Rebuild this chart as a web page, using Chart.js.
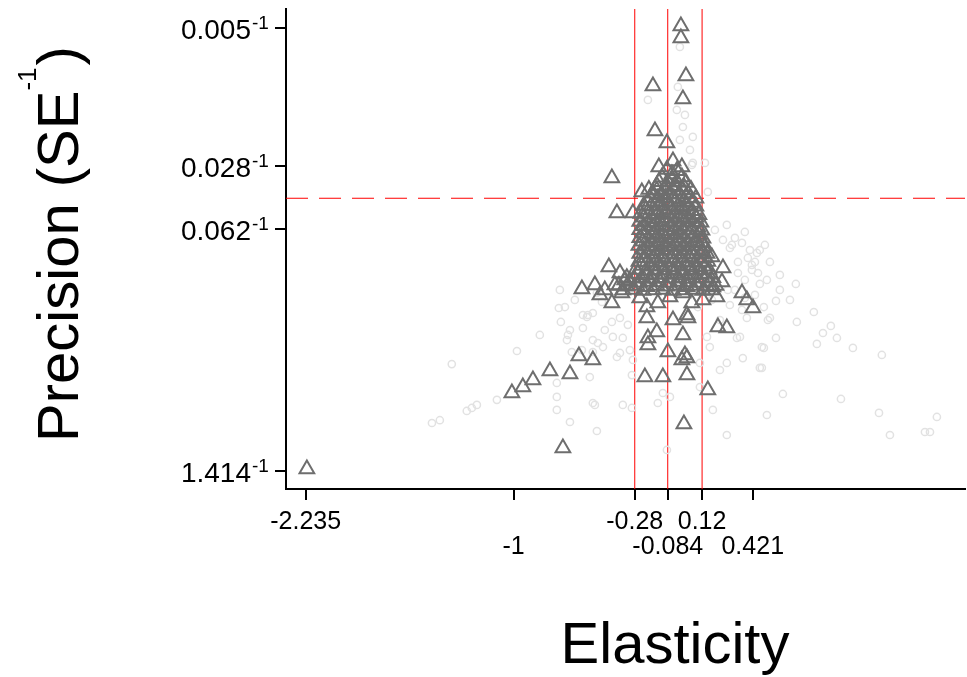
<!DOCTYPE html>
<html>
<head>
<meta charset="utf-8">
<script src="https://cdn.jsdelivr.net/npm/chart.js@4.4.1/dist/chart.umd.min.js"></script>
<style>
  html, body { margin: 0; padding: 0; background: #fff; }
</style>
</head>
<body>
<canvas id="funnel" width="967" height="677"></canvas>
<script>
// axis ticks
const xTicks = [-2.235, -1, -0.28, -0.084, 0.12, 0.421];
const xTickLabels = ['-2.235', '-1', '-0.28', '-0.084', '0.12', '0.421'];
const xTickRow = [0, 1, 0, 1, 0, 1];
const yTicks = [200, 34.46, 15.44, 0.7072];
const yTickLabels = ['0.005', '0.028', '0.062', '1.414'];

// reference lines
const refLinesX = [-0.28, -0.084, 0.12];
const refLineY = 22.83;

// triangles (dark grey)
const triElasticity = [
  -2.228, -0.707, 0.012, -1.010, -0.945, -0.885, -0.784, -0.665, -0.612, -0.529,
  -0.594, -0.434, -0.368, -0.416, -0.416, -0.386, -0.291, -0.238, -0.006, -0.006,
  0.024, -0.172, 0.006, -0.160, -0.089, -0.053, -0.137, 0.000, 0.178, 0.244,
  0.238, 0.357, 0.386, 0.422, 0.214, 0.267, 0.030, 0.006, 0.018, -0.208,
  -0.149, -0.202, -0.202, -0.083, -0.053, 0.036, 0.000, 0.030, -0.220, -0.113,
  0.030, 0.154, -0.357, -0.250, -0.208, -0.143, -0.071, 0.006, 0.059, 0.125,
  0.184, 0.208, -0.517, -0.458, -0.398, -0.339, -0.487,
  -0.089, -0.030,
  -0.119, -0.059, 0.000,
  -0.149, -0.095, -0.042, 0.012,
  -0.172, -0.125, -0.071, -0.018, 0.036,
  -0.202, -0.149, -0.095, -0.042, 0.012, 0.059,
  -0.214, -0.160, -0.107, -0.053, 0.000, 0.059,
  -0.226, -0.172, -0.119, -0.065, -0.012, 0.042, 0.083,
  -0.226, -0.172, -0.119, -0.065, -0.012, 0.042, 0.095,
  -0.226, -0.172, -0.119, -0.065, -0.012, 0.042, 0.101,
  -0.232, -0.178, -0.125, -0.071, -0.018, 0.036, 0.089, 0.119,
  -0.226, -0.172, -0.119, -0.065, -0.012, 0.042, 0.095, 0.125,
  -0.226, -0.172, -0.119, -0.065, -0.012, 0.042, 0.095, 0.137,
  -0.238, -0.184, -0.131, -0.077, -0.024, 0.030, 0.083, 0.137,
  -0.261, -0.208, -0.154, -0.101, -0.048, 0.006, 0.059, 0.113, 0.154,
  -0.309, -0.250, -0.190, -0.131, -0.071, -0.012, 0.048, 0.107, 0.166,
  -0.351, -0.291, -0.232, -0.172, -0.113, -0.053, 0.006, 0.065, 0.125, 0.178,
  -0.059,
  -0.137, -0.083, -0.030, 0.024,
  -0.196, -0.149, -0.101, -0.048, 0.006, 0.054,
  -0.190, -0.143, -0.095, -0.048, 0.000, 0.048, 0.083,
  -0.226, -0.184, -0.131, -0.077, -0.024, 0.030, 0.083,
  -0.244, -0.196, -0.143, -0.089, -0.036, 0.018, 0.071, 0.101,
  -0.250, -0.202, -0.149, -0.095, -0.042, 0.012, 0.065, 0.113,
  -0.250, -0.202, -0.149, -0.095, -0.042, 0.012, 0.065, 0.119,
  -0.250, -0.202, -0.149, -0.095, -0.042, 0.012, 0.065, 0.125,
  -0.255, -0.202, -0.149, -0.095, -0.042, 0.012, 0.065, 0.137,
  -0.250, -0.202, -0.149, -0.095, -0.042, 0.012, 0.065, 0.113, 0.149,
  -0.255, -0.208, -0.154, -0.101, -0.048, 0.006, 0.059, 0.113, 0.154,
  -0.273, -0.214, -0.160, -0.107, -0.053, 0.000, 0.054, 0.107, 0.160,
  -0.327, -0.285, -0.232, -0.178, -0.125, -0.071, -0.018, 0.036, 0.089, 0.143, 0.184,
  -0.374, -0.327, -0.267, -0.208, -0.149, -0.089, -0.030, 0.030, 0.089, 0.149, 0.202
];
const triPrecision = [
  0.725, 0.948, 1.287, 1.910, 2.062, 2.254, 2.528, 2.433, 3.06, 2.909,
  7.19, 9.51, 8.81, 6.01, 29.58, 18.93, 18.93, 24.74, 205.2, 176.1,
  108.5, 95.5, 80.9, 53.8, 46.2, 36.7, 34.0, 34.0, 10.81, 9.39,
  7.86, 6.83, 6.25, 5.64, 4.43, 4.37, 5.16, 4.00, 3.10, 4.97,
  4.16, 3.85, 3.52, 3.22, 4.84, 4.97, 2.909, 2.98, 2.34, 2.34,
  2.40, 1.985, 6.83, 6.41, 5.71, 6.01, 6.49, 6.83, 6.01, 6.25,
  7.37, 6.49, 7.56, 7.10, 7.56, 8.06, 6.66,
  32.9, 32.4,
  29.8, 29.3, 29.9,
  26.9, 26.5, 26.8, 26.4,
  24.3, 23.9, 24.2, 24.0, 24.4,
  21.9, 21.6, 21.9, 21.7, 22.0, 21.6,
  19.8, 19.5, 19.8, 19.6, 19.9, 19.5,
  17.9, 17.6, 17.8, 17.7, 18.0, 17.6, 17.9,
  16.1, 15.9, 16.2, 15.9, 16.1, 16.0, 15.8,
  14.6, 14.4, 14.6, 14.3, 14.5, 14.6, 14.4,
  13.2, 13.0, 13.1, 12.9, 13.2, 13.0, 13.1, 12.9,
  11.9, 11.7, 11.9, 11.8, 11.7, 11.9, 11.8, 11.6,
  10.7, 10.6, 10.8, 10.6, 10.7, 10.8, 10.6, 10.7,
  9.7, 9.6, 9.7, 9.5, 9.6, 9.7, 9.5, 9.6,
  8.75, 8.6, 8.7, 8.65, 8.75, 8.6, 8.7, 8.65, 8.75,
  7.9, 7.8, 7.9, 7.85, 7.8, 7.9, 7.85, 7.8, 7.9,
  7.1, 7.15, 7.05, 7.1, 7.15, 7.05, 7.1, 7.15, 7.05, 7.1,
  31.1,
  28.2, 28.0, 28.3, 27.9,
  25.5, 25.3, 25.6, 25.2, 25.4, 25.5,
  23.0, 22.8, 23.1, 22.9, 22.7, 23.0, 22.8,
  20.8, 20.6, 20.9, 20.7, 20.5, 20.8, 20.6,
  18.8, 18.6, 18.7, 18.9, 18.6, 18.8, 18.7, 18.5,
  17.0, 16.8, 16.9, 17.1, 16.8, 16.9, 17.0, 16.8,
  15.3, 15.2, 15.3, 15.1, 15.3, 15.2, 15.3, 15.2,
  13.8, 13.7, 13.9, 13.7, 13.8, 13.7, 13.8, 13.7,
  12.5, 12.4, 12.5, 12.3, 12.5, 12.4, 12.5, 12.4,
  11.3, 11.2, 11.3, 11.2, 11.3, 11.2, 11.3, 11.2, 11.3,
  10.2, 10.1, 10.2, 10.1, 10.2, 10.1, 10.2, 10.1, 10.2,
  9.2, 9.1, 9.2, 9.15, 9.2, 9.1, 9.2, 9.15, 9.2,
  8.3, 8.25, 8.3, 8.2, 8.3, 8.25, 8.3, 8.2, 8.3, 8.25, 8.3,
  7.5, 7.45, 7.5, 7.4, 7.5, 7.45, 7.5, 7.4, 7.5, 7.45, 7.5
];

// circles (light grey)
const circElasticity = [
  0.677, 0.559, 0.487, 0.511, 0.683, 0.784, 0.885, 0.838, 0.921, 0.802,
  1.016, 1.188, 0.559, 0.487, 0.475, 0.600, 0.945, 1.171, 1.515, 0.505,
  1.236, 1.444, 1.474, 0.267, 0.315, 0.357, 0.297, 0.463, 0.434, 0.416,
  0.452, 0.505, 0.333, 0.374, 0.345, 0.523, -0.731, -0.719, -0.588, -0.559,
  -0.505, -0.475, -0.588, -0.665, -0.677, -0.683, -0.844, -0.980, -1.367, -0.458,
  -0.410, -0.529, -0.499, -0.469, -0.594, -0.654, -0.386, -0.743, -0.743, -0.743,
  -0.547, -0.529, -0.665, -0.505, -1.099, -1.218, -1.248, -1.278, -1.438, -1.485,
  -0.564, -0.351, -0.529, -0.368, -0.309, -0.291, -0.297, -0.113, -0.071, -0.517,
  -0.351, -0.297, -0.143, -0.089, 0.184, 0.267, 0.463, 0.267, 0.226, 0.107,
  0.095, 0.226, 0.327, 0.386, 0.475, 0.362, 0.107, 0.149, 0.166, -0.012,
  -0.202, -0.024, -0.030, 0.018, 0.006, 0.065, -0.012, 0.048, 0.065, 0.244,
  0.285, 0.404, 0.416, 0.446, 0.154, 0.137, 0.059, -0.695, -0.529, 0.178,
  0.285, 0.357, 0.434, 0.315, 0.582, 0.642, -0.368, -0.321, -0.416,
  0.196, 0.374, 0.493, 0.392, 0.333, 0.523, 0.463, 0.273, 0.374, 0.582,
  -0.725, -0.636
];
const circPrecision = [
  7.66, 6.17, 5.71, 4.84, 4.72, 5.36, 4.49, 4.10, 3.85, 3.57,
  3.39, 3.10, 3.85, 3.39, 2.63, 1.886, 1.770, 1.481, 1.407, 1.443,
  1.118, 1.162, 1.162, 16.25, 13.77, 12.92, 12.59, 11.81, 10.14, 9.76,
  8.81, 8.06, 8.81, 8.06, 3.90, 4.97, 5.64, 4.72, 5.16, 5.16,
  6.83, 6.09, 4.37, 4.26, 4.00, 3.75, 4.00, 3.26, 2.76, 4.26,
  3.90, 3.75, 3.61, 3.43, 3.30, 3.22, 3.02, 2.17, 1.816, 1.54,
  2.34, 1.681, 1.320, 1.177, 1.75, 1.640, 1.578, 1.519, 1.35, 1.303,
  5.03, 3.85, 3.22, 3.18, 3.30, 2.91, 2.40, 1.910, 1.816, 1.640,
  1.640, 1.578, 1.681, 0.924, 1.54, 1.118, 2.63, 2.80, 2.56, 2.06,
  5.71, 4.84, 3.85, 4.97, 3.43, 2.98, 2.80, 3.90, 3.43, 157.0,
  79.9, 94.3, 70.35, 66.0, 56.6, 49.9, 48.0, 42.25, 35.8, 13.42,
  12.12, 11.81, 9.16, 11.37, 24.74, 35.8, 34.9, 5.71, 5.29, 6.25,
  5.86, 5.50, 6.66, 7.10, 7.10, 6.25, 4.97, 4.55, 4.72,
  15.24, 14.86, 12.59, 10.67, 10.14, 10.14, 7.66, 7.10, 6.41, 8.6,
  7.10, 6.25
];

const xMin = -2.352, xMax = 1.682;
const yMin = 0.562, yMax = 254.5;
const FONT = '"Liberation Sans", Arial, Helvetica, sans-serif';

const textPlugin = {
  id: 'funnelText',
  afterDraw(chart) {
    const ctx = chart.ctx;
    const xs = chart.scales.x, ys = chart.scales.y;
    const area = chart.chartArea;
    ctx.save();
    ctx.fillStyle = '#000';

    // x tick labels, two staggered rows
    ctx.font = '25px ' + FONT;
    ctx.textAlign = 'center';
    ctx.textBaseline = 'middle';
    xTicks.forEach((v, i) => {
      ctx.fillText(xTickLabels[i], xs.getPixelForValue(v), area.bottom + 33 + 25 * xTickRow[i]);
    });

    // y tick labels with -1 superscript
    ctx.textBaseline = 'alphabetic';
    yTicks.forEach((v, i) => {
      const py = ys.getPixelForValue(v);
      ctx.font = '28px ' + FONT;
      ctx.textAlign = 'right';
      ctx.fillText(yTickLabels[i], area.left - 35, py + 11);
      ctx.font = '19px ' + FONT;
      ctx.textAlign = 'left';
      ctx.fillText('-1', area.left - 34, py + 1);
    });

    // x title
    ctx.font = '58px ' + FONT;
    ctx.textAlign = 'center';
    ctx.fillText('Elasticity', 675, 663);

    // y title, rotated
    ctx.translate(78, 244);
    ctx.rotate(-Math.PI / 2);
    const big = '58px ' + FONT, small = '26px ' + FONT;
    ctx.font = big;
    const w1 = ctx.measureText('Precision (SE').width;
    const w3 = ctx.measureText(')').width;
    ctx.font = small;
    const w2 = ctx.measureText('-1').width;
    let u = -(w1 + w2 + w3 + 2) / 2;
    ctx.textAlign = 'left';
    ctx.font = big;
    ctx.fillText('Precision (SE', u, 0);
    u += w1;
    ctx.font = small;
    ctx.fillText('-1', u, -42);
    u += w2 + 2;
    ctx.font = big;
    ctx.fillText(')', u, 0);
    ctx.restore();
  }
};

const refDatasets = refLinesX.map(v => ({
  type: 'line',
  data: [{ x: v, y: yMin }, { x: v, y: yMax }],
  borderColor: '#ff0000',
  borderWidth: 1,
  pointRadius: 0,
  order: 3
}));
refDatasets.push({
  type: 'line',
  data: [{ x: xMin, y: refLineY }, { x: xMax, y: refLineY }],
  borderColor: '#ff0000',
  borderWidth: 1,
  borderDash: [22, 11],
  pointRadius: 0,
  order: 3
});

new Chart(document.getElementById('funnel'), {
  type: 'scatter',
  data: {
    datasets: [
      {
        label: 'Triangles',
        data: triElasticity.map((x, i) => ({ x: x, y: triPrecision[i] })),
        pointStyle: 'triangle',
        pointRadius: 8.5,
        borderColor: '#6e6e6e',
        borderWidth: 2,
        backgroundColor: 'rgba(0,0,0,0)',
        order: 1
      },
      {
        label: 'Circles',
        data: circElasticity.map((x, i) => ({ x: x, y: circPrecision[i] })),
        pointStyle: 'circle',
        pointRadius: 3.6,
        borderColor: '#e2e2e2',
        borderWidth: 1.5,
        backgroundColor: 'rgba(0,0,0,0)',
        order: 2
      },
      ...refDatasets
    ]
  },
  options: {
    responsive: false,
    animation: false,
    devicePixelRatio: 1,
    layout: { autoPadding: false, padding: { top: 9, right: 2, left: 0, bottom: 0 } },
    plugins: { legend: { display: false }, tooltip: { enabled: false } },
    scales: {
      x: {
        type: 'linear',
        min: xMin,
        max: xMax,
        border: { color: '#000', width: 2 },
        grid: { drawOnChartArea: false, drawTicks: true, tickLength: 11, color: '#000', lineWidth: 2 },
        ticks: { display: false },
        afterBuildTicks: s => { s.ticks = xTicks.map(v => ({ value: v })); },
        afterFit: s => { s.height = 188; }
      },
      y: {
        type: 'logarithmic',
        min: yMin,
        max: yMax,
        border: { color: '#000', width: 2 },
        grid: { drawOnChartArea: false, drawTicks: true, tickLength: 11, color: '#000', lineWidth: 2 },
        ticks: { display: false },
        afterBuildTicks: s => { s.ticks = yTicks.map(v => ({ value: v })); },
        afterFit: s => { s.width = 286; }
      }
    }
  },
  plugins: [textPlugin]
});
</script>
</body>
</html>
